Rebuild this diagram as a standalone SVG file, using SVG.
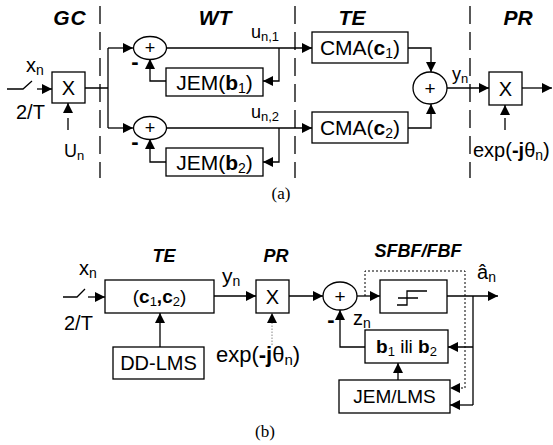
<svg xmlns="http://www.w3.org/2000/svg" width="553" height="445" viewBox="0 0 553 445">
<defs>
<marker id="ah" viewBox="0 0 10 10" refX="10" refY="5" markerWidth="10" markerHeight="10" markerUnits="userSpaceOnUse" orient="auto"><path d="M0,0 L10,5 L0,10 z" fill="#000"/></marker>
<style>
.ln{stroke:#000;stroke-width:1.3;fill:none}
.bx{stroke:#000;stroke-width:1.3;fill:#fff}
.dl{stroke:#000;stroke-width:1.3;stroke-dasharray:18 8;fill:none}
.dt{stroke:#000;stroke-width:1;stroke-dasharray:2 2;fill:none}
.t{font-family:"Liberation Sans",Arial,sans-serif;fill:#000}
.h{font-family:"Liberation Sans",Arial,sans-serif;font-style:italic;font-weight:bold;fill:#000}
.c{font-family:"Liberation Serif","Times New Roman",serif;fill:#000}
</style>
</defs>
<g id="separators">
<line class="dl" x1="100" y1="6" x2="100" y2="178"/>
<line class="dl" x1="295" y1="6" x2="295" y2="178"/>
<line class="dl" x1="470" y1="6" x2="470" y2="178"/>
</g>
<g id="headers">
<text class="h" x="70" y="25" font-size="21" text-anchor="middle" letter-spacing="1">GC</text>
<text class="h" x="215" y="25" font-size="21" text-anchor="middle">WT</text>
<text class="h" x="352" y="25" font-size="21" text-anchor="middle">TE</text>
<text class="h" x="518" y="25" font-size="21" text-anchor="middle">PR</text>
<text class="h" x="164" y="262" font-size="18" text-anchor="middle">TE</text>
<text class="h" x="276" y="262" font-size="18" text-anchor="middle">PR</text>
<text class="h" x="418" y="257" font-size="18" text-anchor="middle">SFBF/FBF</text>
</g>
<g id="connectors">
<path class="ln" d="M7,89 H23 L32,81"/>
<path class="ln" d="M37,89 H52" marker-end="url(#ah)"/>
<path class="ln" d="M68,130 V103" stroke-dasharray="12 6" marker-end="url(#ah)"/>
<path class="ln" d="M85,88 H108 M108,48 V128"/>
<path class="ln" d="M108,48 H133" marker-end="url(#ah)"/>
<path class="ln" d="M108,128 H133" marker-end="url(#ah)"/>
<path class="ln" d="M166,48 H312" marker-end="url(#ah)"/>
<path class="ln" d="M166,128 H312" marker-end="url(#ah)"/>
<path class="ln" d="M279,48 V81 H263" marker-end="url(#ah)"/>
<path class="ln" d="M279,128 V162 H263" marker-end="url(#ah)"/>
<path class="ln" d="M166,81 H150 V59" marker-end="url(#ah)"/>
<path class="ln" d="M166,162 H150 V139" marker-end="url(#ah)"/>
<path class="ln" d="M408,48 H431 V72" marker-end="url(#ah)"/>
<path class="ln" d="M408,128 H431 V104" marker-end="url(#ah)"/>
<path class="ln" d="M447,88 H489" marker-end="url(#ah)"/>
<path class="ln" d="M522,88 H552" marker-end="url(#ah)"/>
<path class="ln" d="M505,130 V105" stroke-dasharray="12 6" marker-end="url(#ah)"/>
<path class="ln" d="M63,297 H77 L85,289"/>
<path class="ln" d="M88,297 H105" marker-end="url(#ah)"/>
<path class="ln" d="M214,296 H256" marker-end="url(#ah)"/>
<path class="ln" d="M160,347 V313" marker-end="url(#ah)"/>
<path d="M272,345 V313" stroke="#888" stroke-width="1" stroke-dasharray="1.5 1.5" fill="none"/>
<path d="M267,323 L272,313 L277,323 z" fill="#000"/>
<path class="ln" d="M289,296 H323" marker-end="url(#ah)"/>
<path class="ln" d="M357,296 H380" marker-end="url(#ah)"/>
<path class="ln" d="M447,296 H498" marker-end="url(#ah)"/>
<path class="ln" d="M473,296 V405 M473,347 H448" marker-end="url(#ah)"/>
<path class="ln" d="M473,405 H450" marker-end="url(#ah)"/>
<path class="ln" d="M365,347 H340 V310" marker-end="url(#ah)"/>
<path class="ln" d="M398,380 V363" marker-end="url(#ah)"/>
<path class="dt" d="M365,296 V271 H465 V388 H452"/>
<path d="M460,383 L450,388 L460,393 z" fill="#000"/>
</g>
<g id="gc-mult"><rect class="bx" x="52" y="72" width="33" height="31"/><text class="t" x="68.5" y="95" font-size="20" text-anchor="middle">X</text></g>
<g id="in-a-labels">
<text class="t" x="26" y="72" font-size="20">x<tspan font-size="14" dy="3">n</tspan></text>
<text class="t" x="16" y="119" font-size="20">2/T</text>
<text class="t" x="64" y="157" font-size="18">U<tspan font-size="13" dy="3">n</tspan></text>
</g>
<g id="sum1"><ellipse class="bx" cx="150" cy="48" rx="16.5" ry="11.5"/><text class="t" x="150" y="54" font-size="18" text-anchor="middle">+</text><text class="t" x="135" y="69" font-size="22" font-weight="bold" text-anchor="middle">-</text></g>
<g id="sum2"><ellipse class="bx" cx="150" cy="128" rx="16.5" ry="11.5"/><text class="t" x="150" y="134" font-size="18" text-anchor="middle">+</text><text class="t" x="135" y="149" font-size="22" font-weight="bold" text-anchor="middle">-</text></g>
<g id="jem1"><rect class="bx" x="166" y="68" width="97" height="28"/><text class="t" x="214.5" y="90" font-size="21" text-anchor="middle">JEM(<tspan font-weight="bold">b</tspan><tspan font-size="14" dy="3">1</tspan><tspan dy="-3">)</tspan></text></g>
<g id="jem2"><rect class="bx" x="166" y="148" width="97" height="28"/><text class="t" x="214.5" y="170" font-size="21" text-anchor="middle">JEM(<tspan font-weight="bold">b</tspan><tspan font-size="14" dy="3">2</tspan><tspan dy="-3">)</tspan></text></g>
<g id="u-labels">
<text class="t" x="251" y="38" font-size="18">u<tspan font-size="13" dy="3">n,1</tspan></text>
<text class="t" x="251" y="118" font-size="18">u<tspan font-size="13" dy="3">n,2</tspan></text>
</g>
<g id="cma1"><rect class="bx" x="312" y="32" width="96" height="31"/><text class="t" x="360" y="55" font-size="21" text-anchor="middle">CMA(<tspan font-weight="bold">c</tspan><tspan font-size="14" dy="3">1</tspan><tspan dy="-3">)</tspan></text></g>
<g id="cma2"><rect class="bx" x="312" y="112" width="96" height="31"/><text class="t" x="360" y="135" font-size="21" text-anchor="middle">CMA(<tspan font-weight="bold">c</tspan><tspan font-size="14" dy="3">2</tspan><tspan dy="-3">)</tspan></text></g>
<g id="sum3"><ellipse class="bx" cx="430" cy="88" rx="17" ry="16"/><text class="t" x="430" y="95" font-size="19" text-anchor="middle">+</text></g>
<g id="yn-a"><text class="t" x="452" y="80" font-size="18">y<tspan font-size="13" dy="3">n</tspan></text></g>
<g id="pr-mult"><rect class="bx" x="489" y="72" width="33" height="33"/><text class="t" x="505.5" y="96" font-size="20" text-anchor="middle">X</text></g>
<g id="exp-a"><text class="t" x="473" y="157" font-size="20">exp(<tspan font-weight="bold">-j</tspan>θ<tspan font-size="14" dy="3">n</tspan><tspan dy="-3">)</tspan></text></g>
<text class="c" x="281" y="199" font-size="17" text-anchor="middle">(a)</text>
<g id="in-b-labels">
<text class="t" x="79" y="275" font-size="20">x<tspan font-size="14" dy="3">n</tspan></text>
<text class="t" x="64" y="330" font-size="20">2/T</text>
</g>
<g id="te-box"><rect class="bx" x="105" y="280" width="109" height="33"/><text class="t" x="159.5" y="303" font-size="19" text-anchor="middle">(<tspan font-weight="bold">c</tspan><tspan font-size="13" dy="3">1</tspan><tspan font-weight="bold" dy="-3">,c</tspan><tspan font-size="13" dy="3">2</tspan><tspan dy="-3">)</tspan></text></g>
<g id="ddlms"><rect class="bx" x="113" y="347" width="91" height="32"/><text class="t" x="158.5" y="370" font-size="20" text-anchor="middle">DD-LMS</text></g>
<g id="yn-b"><text class="t" x="222" y="283" font-size="21">y<tspan font-size="14" dy="3">n</tspan></text></g>
<g id="pr-b"><rect class="bx" x="256" y="280" width="33" height="33"/><text class="t" x="272.5" y="304" font-size="20" text-anchor="middle">X</text></g>
<g id="exp-b"><text class="t" x="216" y="362" font-size="22">exp(<tspan font-weight="bold">-j</tspan>θ<tspan font-size="15" dy="3">n</tspan><tspan dy="-3">)</tspan></text></g>
<g id="sum-b"><ellipse class="bx" cx="340" cy="296" rx="17" ry="14"/><text class="t" x="340" y="303" font-size="19" text-anchor="middle">+</text><text class="t" x="331" y="327" font-size="22" font-weight="bold" text-anchor="middle">-</text></g>
<g id="zn"><text class="t" x="353" y="325" font-size="20">z<tspan font-size="14" dy="3">n</tspan></text></g>
<g id="slicer"><rect class="bx" x="380" y="280" width="67" height="33"/><path class="ln" d="M397,305 H407 V291 H427 M398,298 H418"/></g>
<g id="an"><text class="t" x="477" y="279" font-size="20">â<tspan font-size="14" dy="3">n</tspan></text></g>
<g id="bsel"><rect class="bx" x="365" y="330" width="83" height="33"/><text class="t" x="406.5" y="353" font-size="19" text-anchor="middle"><tspan font-weight="bold">b</tspan><tspan font-size="13" dy="3">1</tspan><tspan dy="-3"> ili </tspan><tspan font-weight="bold">b</tspan><tspan font-size="13" dy="3">2</tspan></text></g>
<g id="jemlms"><rect class="bx" x="339" y="380" width="111" height="33"/><text class="t" x="394.5" y="403" font-size="19" text-anchor="middle">JEM/LMS</text></g>
<text class="c" x="265" y="437" font-size="17" text-anchor="middle">(b)</text>
</svg>
